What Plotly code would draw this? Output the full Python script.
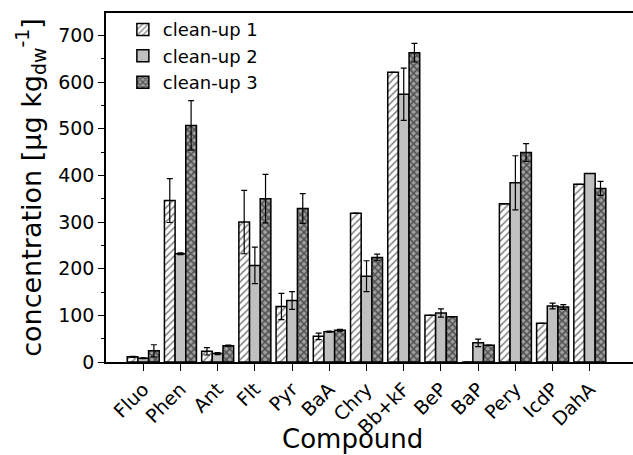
import plotly.graph_objects as go

categories = ["Fluo", "Phen", "Ant", "Flt", "Pyr", "BaA", "Chry", "Bb+kF",
              "BeP", "BaP", "Pery", "IcdP", "DahA"]

cleanup1 = [11, 346, 23, 300, 119, 55, 319, 621, 100, 0, 339, 83, 381]
cleanup1_err = [1, 47, 8, 68, 28, 7, 0, 0, 0, 0, 0, 0, 0]

cleanup2 = [8, 232, 18, 207, 132, 65, 184, 574, 105, 41, 384, 120, 404]
cleanup2_err = [1, 2, 2, 39, 19, 1, 33, 56, 9, 8, 58, 6, 0]

cleanup3 = [24, 507, 35, 350, 329, 68, 224, 663, 97, 36, 449, 118, 372]
cleanup3_err = [13, 53, 1, 52, 32, 2, 7, 20, 0, 0, 19, 5, 15]

series_names = ["clean-up 1", "clean-up 2", "clean-up 3"]

FONT = "DejaVu Sans"

fig = go.Figure()

err_style = dict(type="data", color="black", thickness=1.2, width=3, visible=True)

fig.add_trace(go.Bar(
    name=series_names[0], x=categories, y=cleanup1,
    error_y=dict(array=cleanup1_err, **err_style),
    marker=dict(color="white", line=dict(color="black", width=1.5),
                pattern=dict(shape="/", fgcolor="black", bgcolor="white",
                             size=5, solidity=0.3)),
))
fig.add_trace(go.Bar(
    name=series_names[1], x=categories, y=cleanup2,
    error_y=dict(array=cleanup2_err, **err_style),
    marker=dict(color="#c0c0c0", line=dict(color="black", width=1.5)),
))
fig.add_trace(go.Bar(
    name=series_names[2], x=categories, y=cleanup3,
    error_y=dict(array=cleanup3_err, **err_style),
    marker=dict(color="#909090", line=dict(color="black", width=1.5),
                pattern=dict(shape="x", fgcolor="black", bgcolor="#a0a0a0",
                             size=5, solidity=0.5)),
))

fig.update_layout(
    width=633, height=455,
    margin=dict(l=106, r=0, t=13, b=93, autoexpand=False),
    paper_bgcolor="white", plot_bgcolor="white",
    barmode="group", bargap=0.14, bargroupgap=0,
    font=dict(family=FONT, size=19, color="black"),
    showlegend=True,
    legend=dict(x=0.032, y=1.005, xanchor="left", yanchor="top",
                bgcolor="rgba(0,0,0,0)", borderwidth=0,
                font=dict(family=FONT, size=18, color="black"),
                itemwidth=30, tracegroupgap=0),
    xaxis=dict(
        type="category", range=[-1, 13.16],
        showline=True, linecolor="black", linewidth=1.5, mirror=True,
        ticks="outside", ticklen=7, tickwidth=1.2, tickcolor="black",
        tickangle=-45, tickfont=dict(family=FONT, size=19),
        showgrid=False, zeroline=False, automargin=False,
    ),
    yaxis=dict(
        range=[0, 748], dtick=100, tick0=0,
        showline=True, linecolor="black", linewidth=1.5, mirror=False,
        ticks="outside", ticklen=6, tickwidth=1.2, tickcolor="black",
        minor=dict(dtick=50, ticks="outside", ticklen=3, tickwidth=1.2, tickcolor="black"),
        tickfont=dict(family=FONT, size=19),
        showgrid=False, zeroline=False, automargin=False,
        title=dict(text="concentration [µg kg<sub>dw</sub><sup>-1</sup>]",
                   font=dict(family=FONT, size=27), standoff=9),
    ),
    annotations=[dict(text="Compound", xref="paper", yref="paper",
                      x=0.467, y=-0.22, xanchor="center", yanchor="middle",
                      showarrow=False, font=dict(family=FONT, size=26, color="black"))],
)

fig.write_html("out.html", config={"displayModeBar": False},
               post_script="document.body.style.margin='0';document.body.style.overflow='hidden';")
